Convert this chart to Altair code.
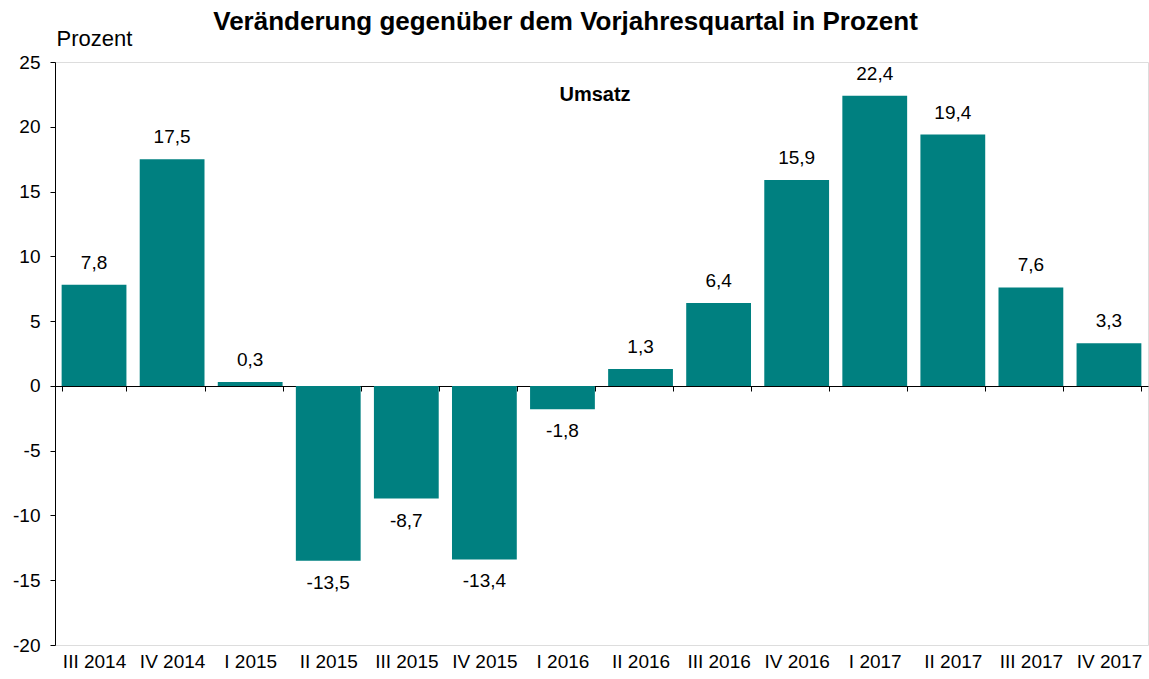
import altair as alt
import pandas as pd

quarters = ["III 2014", "IV 2014", "I 2015", "II 2015", "III 2015", "IV 2015", "I 2016",
            "II 2016", "III 2016", "IV 2016", "I 2017", "II 2017", "III 2017", "IV 2017"]
values = [7.8, 17.5, 0.3, -13.5, -8.7, -13.4, -1.8, 1.3, 6.4, 15.9, 22.4, 19.4, 7.6, 3.3]

df = pd.DataFrame({"q": quarters, "v": values})

FONT = "Liberation Sans"

x = alt.X("q:N", sort=quarters, title=None,
          scale=alt.Scale(paddingInner=0.17, paddingOuter=0.085),
          axis=alt.Axis(orient="bottom", offset=-259, domain=True, domainColor="black",
                        domainWidth=1, ticks=True, tickBand="extent", tickColor="black",
                        tickSize=5, labelPadding=261, labelFont=FONT, labelFontSize=19,
                        labelColor="black", labelAngle=0, grid=False))
y = alt.Y("v:Q", title="Prozent",
          scale=alt.Scale(domain=[-20, 25], nice=False),
          axis=alt.Axis(values=list(range(-20, 26, 5)), labelExpr="toString(datum.value)",
                        domainColor="black", tickColor="black",
                        tickSize=5, labelPadding=10, labelFont=FONT, labelFontSize=19,
                        labelColor="black", grid=False, titleAngle=0, titleAlign="left",
                        titleBaseline="middle", titleX=1, titleY=-24, titleFont=FONT,
                        titleFontSize=22, titleFontWeight="normal", titleColor="black"))

base = alt.Chart(df).transform_calculate(
    lab="replace(replace(format(datum.v, '.1f'), '.', ','), '\u2212', '-')"
)

bars = base.mark_bar(color="#008080").encode(x=x, y=y)

pos = base.transform_filter("datum.v >= 0").mark_text(
    baseline="middle", dy=-22, font=FONT, fontSize=19, color="black"
).encode(x=alt.X("q:N", sort=quarters), y="v:Q", text="lab:N")

neg = base.transform_filter("datum.v < 0").mark_text(
    baseline="middle", dy=22, font=FONT, fontSize=19, color="black"
).encode(x=alt.X("q:N", sort=quarters), y="v:Q", text="lab:N")

umsatz = alt.Chart(pd.DataFrame({"t": ["Umsatz"]})).mark_text(
    font=FONT, fontSize=20, fontWeight="bold", color="black", baseline="middle"
).encode(x=alt.value(540), y=alt.value(33), text="t:N")

chart = alt.layer(bars, pos, neg, umsatz).properties(
    width=1093, height=583,
    autosize=alt.AutoSizeParams(type="none"),
    padding={"left": 55, "top": 62, "right": 1, "bottom": 34},
    title=alt.TitleParams("Veränderung gegenüber dem Vorjahresquartal in Prozent",
                          font=FONT, fontSize=26, fontWeight="bold", color="black",
                          anchor="middle", dx=-36, offset=-8),
).configure_view(stroke=None).configure(background="white")

chart.save("out.html", embed_options={"renderer": "svg", "actions": False})
